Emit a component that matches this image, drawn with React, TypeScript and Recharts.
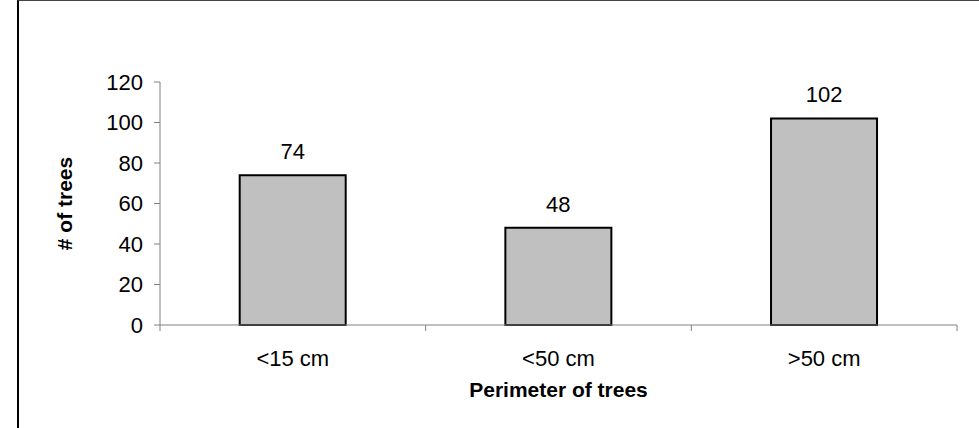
import React from "react";
import { Bar, BarChart, LabelList, XAxis, YAxis } from "recharts";

const categories = ["<15 cm", "<50 cm", ">50 cm"];
const treeCounts = [74, 48, 102];
const yTicks = [0, 20, 40, 60, 80, 100, 120];

const W = 979;
const H = 428;
const PLOT_LEFT = 160;
const PLOT_RIGHT = 22;
const FONT = "'Liberation Sans', Arial, sans-serif";
const AXIS = "#808080";

const data = categories.map((c, i) => ({ name: c, count: treeCounts[i] }));

function CatTick(props: any) {
  const { x, y, payload, index } = props;
  // ticks sit on the category boundaries, labels in the middle
  const band = (W - PLOT_LEFT - PLOT_RIGHT) / categories.length;
  const left = x - band / 2;
  return (
    <g>
      <line x1={left} x2={left} y1={y} y2={y + 6} stroke={AXIS} strokeWidth={1} />
      {index === categories.length - 1 && (
        <line x1={x + band / 2} x2={x + band / 2} y1={y} y2={y + 6} stroke={AXIS} strokeWidth={1} />
      )}
      <text x={x} y={y + 41} textAnchor="middle" fontFamily={FONT} fontSize={22} fill="#000">
        {payload.value}
      </text>
    </g>
  );
}

export default function App() {
  return (
    <div style={{ position: "absolute", left: 0, top: 0, width: W, height: H, background: "#fff" }}>
      <div
        style={{
          position: "absolute", left: 17, top: 0, width: W - 17, height: H,
          borderLeft: "2px solid #000", borderTop: "1px solid #444", boxSizing: "border-box",
        }}
      />
      <div style={{ position: "absolute", left: 0, top: 0 }}>
        <BarChart
          width={W}
          height={H}
          data={data}
          margin={{ top: 82, right: PLOT_RIGHT, left: 0, bottom: 0 }}
          barCategoryGap="30%"
        >
          <XAxis
            dataKey="name"
            height={103}
            stroke={AXIS}
            tickLine={false}
            tickSize={0}
            tickMargin={0}
            interval={0}
            tick={<CatTick />}
            label={{
              value: "Perimeter of trees",
              position: "insideBottom",
              offset: 31,
              fill: "#000",
              fontFamily: FONT,
              fontSize: 21,
              fontWeight: "bold",
            }}
          />
          <YAxis
            width={PLOT_LEFT}
            domain={[0, 120]}
            ticks={yTicks}
            interval={0}
            stroke={AXIS}
            tickSize={6}
            tickMargin={11}
            tick={{ fill: "#000", fontFamily: FONT, fontSize: 22 }}
            label={{
              content: ({ viewBox }: any) => {
                const cy = viewBox.y + viewBox.height / 2;
                return (
                  <text
                    x={72}
                    y={cy}
                    transform={`rotate(-90 72 ${cy})`}
                    textAnchor="middle"
                    fontFamily={FONT}
                    fontSize={21}
                    fontWeight="bold"
                    fill="#000"
                  >
                    # of trees
                  </text>
                );
              },
            }}
          />
          <Bar dataKey="count" fill="#C0C0C0" stroke="#000" strokeWidth={2} isAnimationActive={false}>
            <LabelList dataKey="count" position="top" offset={16} fill="#000" fontFamily={FONT} fontSize={22} />
          </Bar>
        </BarChart>
      </div>
    </div>
  );
}
